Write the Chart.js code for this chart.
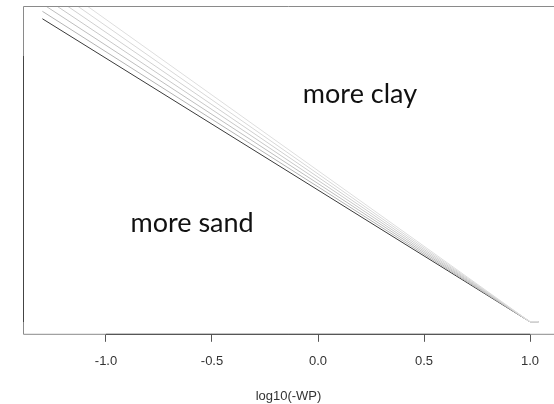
<!DOCTYPE html>
<html>
<head>
<meta charset="utf-8">
<script src="https://cdn.jsdelivr.net/npm/chart.js@4/dist/chart.umd.min.js"></script>
<style>
  html, body { margin: 0; padding: 0; background: #fff; }
  #wrap { width: 554px; height: 404px; }
</style>
</head>
<body>
<div id="wrap"><canvas id="wp-chart"></canvas></div>
<script>
// x positions shared by every curve: start, meeting point, short flat tail
const xPoints = [-1.3, 1.0, 1.04];

// water content along each curve (darkest = most sand ... lightest = most clay)
const curve1 = [0.570, 0, 0];
const curve2 = [0.584, 0, 0];
const curve3 = [0.598, 0, 0];
const curve4 = [0.612, 0, 0];
const curve5 = [0.626, 0, 0];
const curve6 = [0.640, 0, 0];
const curve7 = [0.654, 0, 0];

const curveColors = ['#3a3a3a', '#b4b4b4', '#bebebe', '#c8c8c8', '#d0d0d0', '#d8d8d8', '#dedede'];

const xTicks = [-1.0, -0.5, 0.0, 0.5, 1.0];
const yTicks = [0, 0.1, 0.2, 0.3, 0.4, 0.5];

const notes = [
  { text: 'more clay', x: 0.198, y: 0.427 },
  { text: 'more sand', x: -0.594, y: 0.186 },
];

const toPoints = (ys) => ys.map((y, i) => ({ x: xPoints[i], y: y }));

const curves = [curve1, curve2, curve3, curve4, curve5, curve6, curve7];
// draw light ones first so the dark line stays on top
const datasets = curves.map((c, i) => ({
  data: toPoints(c),
  borderColor: curveColors[i],
  borderWidth: 1,
  pointRadius: 0,
  fill: false,
  tension: 0,
})).reverse();

const framePlugin = {
  id: 'frame',
  afterDraw(chart) {
    const { ctx, chartArea } = chart;
    const xs = chart.scales.x;
    const ys = chart.scales.y;
    const l = chartArea.left + 0.5;
    const t = chartArea.top + 0.5;
    const b = chartArea.bottom + 0.5;
    const r = chartArea.right;
    ctx.save();
    ctx.lineWidth = 1;
    // light box
    ctx.strokeStyle = '#8a8a8a';
    ctx.beginPath();
    ctx.moveTo(r, t); ctx.lineTo(l, t); ctx.lineTo(l, b); ctx.lineTo(r, b);
    ctx.stroke();
    // darker axis lines over the tick ranges
    ctx.strokeStyle = '#444';
    ctx.beginPath();
    ctx.moveTo(Math.round(xs.getPixelForValue(xTicks[0])), b);
    ctx.lineTo(Math.round(xs.getPixelForValue(xTicks[xTicks.length - 1])), b);
    ctx.moveTo(l, Math.round(ys.getPixelForValue(yTicks[0])));
    ctx.lineTo(l, Math.round(ys.getPixelForValue(yTicks[yTicks.length - 1])));
    ctx.stroke();

    // annotations
    ctx.fillStyle = '#111';
    ctx.font = '27px Lato, "Open Sans", sans-serif';
    ctx.textAlign = 'center';
    ctx.textBaseline = 'middle';
    notes.forEach((n) => {
      ctx.fillText(n.text, xs.getPixelForValue(n.x), ys.getPixelForValue(n.y));
    });
    ctx.restore();
  },
};

const ctx = document.getElementById('wp-chart').getContext('2d');
new Chart(ctx, {
  type: 'line',
  data: { datasets: datasets },
  plugins: [framePlugin],
  options: {
    responsive: true,
    maintainAspectRatio: false,
    animation: false,
    layout: { padding: { left: 23, top: 6, right: 0, bottom: 0 } },
    plugins: {
      legend: { display: false },
      tooltip: { enabled: false },
    },
    scales: {
      x: {
        type: 'linear',
        min: -1.3915,
        max: 1.1132,
        afterBuildTicks: (scale) => {
          scale.ticks = xTicks.map((v) => ({ value: v }));
        },
        grid: {
          drawOnChartArea: false,
          tickLength: 8,
          tickColor: '#555',
          tickWidth: 1,
        },
        border: { display: false },
        ticks: {
          padding: 12,
          color: '#333',
          font: { family: '"Liberation Sans", Arial, sans-serif', size: 13 },
          callback: (v) => Number(v).toFixed(1),
          maxRotation: 0,
        },
        title: {
          display: true,
          text: 'log10(-WP)',
          color: '#333',
          font: { family: '"Liberation Sans", Arial, sans-serif', size: 13 },
          padding: { top: 7, bottom: 0 },
        },
      },
      y: {
        type: 'linear',
        display: false,
        min: -0.0226,
        max: 0.594,
      },
    },
  },
});
</script>
</body>
</html>
